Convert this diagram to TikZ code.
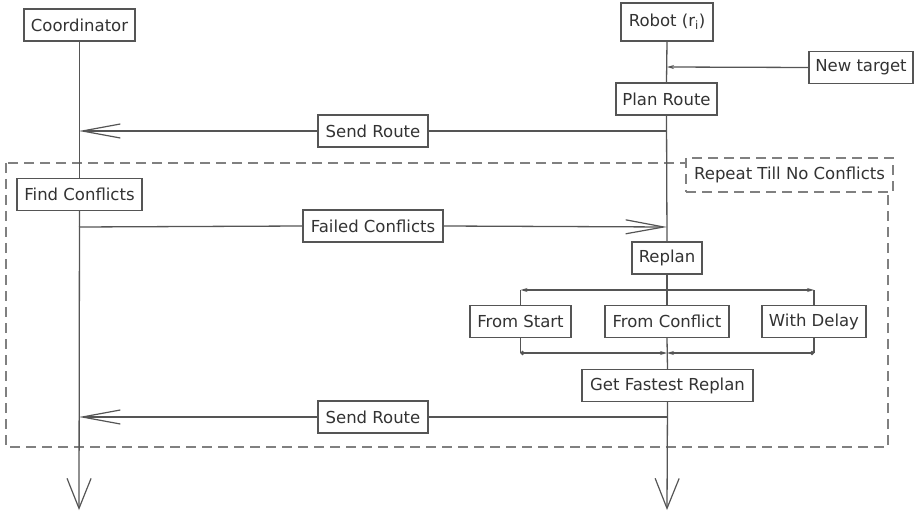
\documentclass[tikz,border=0pt]{standalone}
\usepackage{fontspec}
\setmainfont{DejaVu Sans}
\usetikzlibrary{arrows.meta}
\definecolor{ln}{HTML}{555555}
\definecolor{tx}{HTML}{333333}
\definecolor{dsh}{HTML}{808080}
\begin{document}
\begin{tikzpicture}[x=1pt,y=-1pt,
  every node/.style={font=\fontsize{16.5}{19}\selectfont, text=tx},
  box/.style={draw=ln, line width=1.2pt, fill=white, minimum height=32pt, inner xsep=5pt, inner ysep=0pt},
  ln/.style={draw=ln, line width=1.3pt},
  bigtip/.style={-{Straight Barb[length=38pt,width=14pt,line width=1.2pt]}},
  downtip/.style={-{Straight Barb[length=30pt,width=24pt,line width=1.2pt]}},
  smalltip/.style={-{Stealth[length=7pt,width=4pt]}},
  dashbox/.style={draw=dsh, line width=1.3pt, dash pattern=on 10pt off 6pt}
]
\useasboundingbox (0,0) rectangle (914,516);

% repeat frame
\draw[dashbox] (6,163) rectangle (888,447);
\node[box, draw=dsh, line width=1.3pt, dash pattern=on 10pt off 6pt, minimum width=207pt, minimum height=34pt] (rep) at (789.5,175) {Repeat Till No Conflicts};

% heads
\node[box, minimum width=111pt] (coord) at (79.5,25) {Coordinator};
\node[box, minimum width=92pt, minimum height=38pt] (robot) at (667,22) {Robot (r\textsubscript{i})};
\node[box, minimum width=104pt] (newt) at (861,67.5) {New target};
\node[box, minimum width=101pt] (plan) at (666.5,99) {Plan Route};
\node[box, minimum width=125pt] (find) at (79.5,194.5) {Find Conflicts};
\node[box, minimum width=70pt] (replan) at (667,258) {Replan};
\node[box, minimum width=101pt] (fstart) at (520.5,321.5) {From Start};
\node[box, minimum width=124pt] (fconf) at (667,321.5) {From Conflict};
\node[box, minimum width=104pt] (wdelay) at (814,321.5) {With Delay};
\node[box, minimum width=171pt] (fast) at (667.5,385.5) {Get Fastest Replan};

% coordinates
\coordinate (cend) at (79,510);
\coordinate (rend) at (667,510);
\coordinate (rnt) at (667,67);
\coordinate (r1) at (667,131);
\coordinate (c1) at (79,131);
\coordinate (c2) at (79,227);
\coordinate (r2) at (667,227);
\coordinate (r3) at (667,417);
\coordinate (c3) at (79,417);
\coordinate (split) at (667,290);
\coordinate (sL) at (520.5,290);
\coordinate (sR) at (814,290);
\coordinate (merge) at (667,353);
\coordinate (mL) at (520.5,353);
\coordinate (mR) at (814,353);

% lifelines
\draw[ln] (coord.south) -- (find.north);
\draw[ln, downtip] (find.south) -- (cend);
\draw[ln] (robot.south) -- (plan.north);
\draw[ln] (plan.south) -- (replan.north);
\draw[ln] (replan.south) -- (fconf.north);
\draw[ln] (fconf.south) -- (fast.north);
\draw[ln, downtip] (fast.south) -- (rend);

% new target
\draw[ln, smalltip] (newt.west) -- (rnt);

% messages
\node[box, minimum width=110pt] (send1) at (373,131) {Send Route};
\draw[ln] (r1) -- (send1.east);
\draw[ln, bigtip] (send1.west) -- (c1);
\node[box, minimum width=140pt] (failed) at (373,226) {Failed Conflicts};
\draw[ln] (c2) -- (failed.west);
\draw[ln, bigtip] (failed.east) -- (r2);
\node[box, minimum width=110pt] (send2) at (373,417) {Send Route};
\draw[ln] (r3) -- (send2.east);
\draw[ln, bigtip] (send2.west) -- (c3);

% branch
\draw[ln, smalltip] (split) -- (sL);
\draw[ln, smalltip] (split) -- (sR);
\draw[ln] (sL) -- (fstart.north);
\draw[ln] (sR) -- (wdelay.north);
\draw[ln] (fstart.south) -- (mL);
\draw[ln] (wdelay.south) -- (mR);
\draw[ln, {Circle[length=4pt]}-{Stealth[length=7pt,width=4pt]}] (mL) -- (merge);
\draw[ln, {Circle[length=4pt]}-{Stealth[length=7pt,width=4pt]}] (mR) -- (merge);
\end{tikzpicture}
\end{document}
